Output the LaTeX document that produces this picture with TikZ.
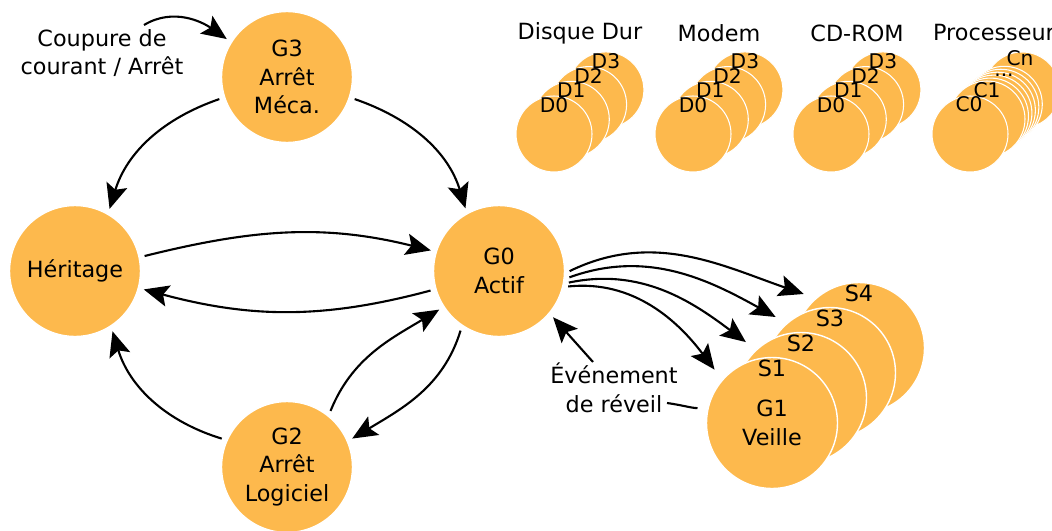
\documentclass[tikz,border=0pt]{standalone}
\usepackage{fontspec}
\setmainfont{DejaVu Sans}
\usepackage{xcolor}
\usepackage{tikz}
\usetikzlibrary{arrows.meta, calc}
\definecolor{stateorange}{RGB}{253,185,77}

\begin{document}
\begin{tikzpicture}[x=0.02cm, y=0.02cm,
    every node/.style={font=\fontsize{12.7}{16.2}\selectfont, inner sep=0pt, align=center},
    state/.style={circle, fill=stateorange, draw=white, line width=0.8pt, minimum size=2.62cm},
    unit/.style={circle, fill=stateorange, draw=white, line width=0.6pt, minimum size=1.52cm},
    tag/.style={font=\fontsize{11.5}{13}\selectfont},
    flow/.style={-{Stealth[length=5mm, width=4.3mm, inset=1mm]}, line width=1.2pt, shorten <=1mm, shorten >=1mm}]
    \useasboundingbox (0,0) rectangle (1052,-531);

    % Global states
    \node[state] (g3) at (287,-77) {G3\\Arrêt\\Méca.};
    \node[state] (her) at (75,-271) {Héritage};
    \node[state] (g0) at (499,-271) {G0\\Actif};
    \node[state] (g2) at (287,-467) {G2\\Arrêt\\Logiciel};

    % Sleep states S4..S2 behind G1
    \foreach \i in {4,3,2} {
        \node[state] (s\i) at ({772+29*(\i-1)},{-423+25*(\i-1)}) {};
    }
    \node[state] (g1) at (772,-423) {G1\\Veille};
    \foreach \i in {1,...,4} {
        \node (sl\i) at ({772+29*(\i-1)},{-368+25*(\i-1)}) {S\i};
    }

    % Device stacks (D0..D3)
    \foreach \gx/\dev/\title in {554/hdd/Disque Dur, 693/mod/Modem, 831/cdr/CD-ROM} {
        \foreach \i in {3,2,1,0} {
            \node[unit] (\dev\i) at ({\gx+17.3*\i},{-134+14.7*\i}) {};
        }
        \foreach \i in {0,...,3} {
            \node[tag] (\dev l\i) at ({\gx+17.3*\i},{-105+14.7*\i}) {D\i};
        }
        \node (\dev) at (\gx+26,-33) {\title};
    }

    % Processor stack (C0, C1, ..., Cn)
    \node[unit] (cn) at (1022,-90) {};
    \foreach \k in {5,4,3,2,1} {
        \node[unit] (cm\k) at ({987+3.46*\k},{-119+2.94*\k}) {};
    }
    \node[unit] (c1) at (987,-119) {};
    \node[unit] (c0) at (970,-134) {};
    \node[tag] (labc0) at (969,-104) {C0};
    \node[tag] (labc1) at (987,-90) {C1};
    \node[tag] (labcm) at (1004,-75) {...};
    \node[tag] (labcn) at (1020,-58) {Cn};
    \node (cpu) at (994,-33) {Processeur};

    % Free labels
    \node (cut) at (102,-53) {Coupure de\\courant / Arrêt};
    \node (ev) at (614,-388) {Événement\\de réveil};
    \coordinate (cutsrc) at (144,-25);
    \coordinate (evsrc) at (593,-362);
    \coordinate (evlink) at (667,-403);

    % Transitions
    \draw[flow, shorten <=0pt] (cutsrc) to[out=31, in=145] (g3.148);
    \draw[flow] (g3.198) to[out=199, in=73] (her.60);
    \draw[flow] (g3.342) to[out=-19, in=107] (g0.119);
    \draw[flow] (her.12) to[out=14, in=166] (g0.163);
    \draw[flow] (g0.196) to[out=195, in=-15] (her.345);
    \draw[flow] (g2.156) to[out=163, in=-73] (her.303);
    \draw[flow] (g2.51) to[out=68, in=211] (g0.213);
    \draw[flow] (g0.236) to[out=253, in=31] (g2.23);
    \draw[flow, shorten >=2.5mm] (g0.-2) to[out=26, in=161] (s4.131);
    \draw[flow, shorten >=2.5mm] (g0.-7) to[out=20, in=151] (s3.131);
    \draw[flow, shorten >=2.5mm] (g0.-11) to[out=12, in=143] (s2.133);
    \draw[flow, shorten >=2.5mm] (g0.-14) to[out=6, in=127] (g1.139);
    \draw[flow, shorten <=0pt] (evsrc) -- (g0.320);
    \draw[line width=1.2pt, shorten >=2mm] (evlink) to[out=-8, in=180] (g1.167);
\end{tikzpicture}
\end{document}
